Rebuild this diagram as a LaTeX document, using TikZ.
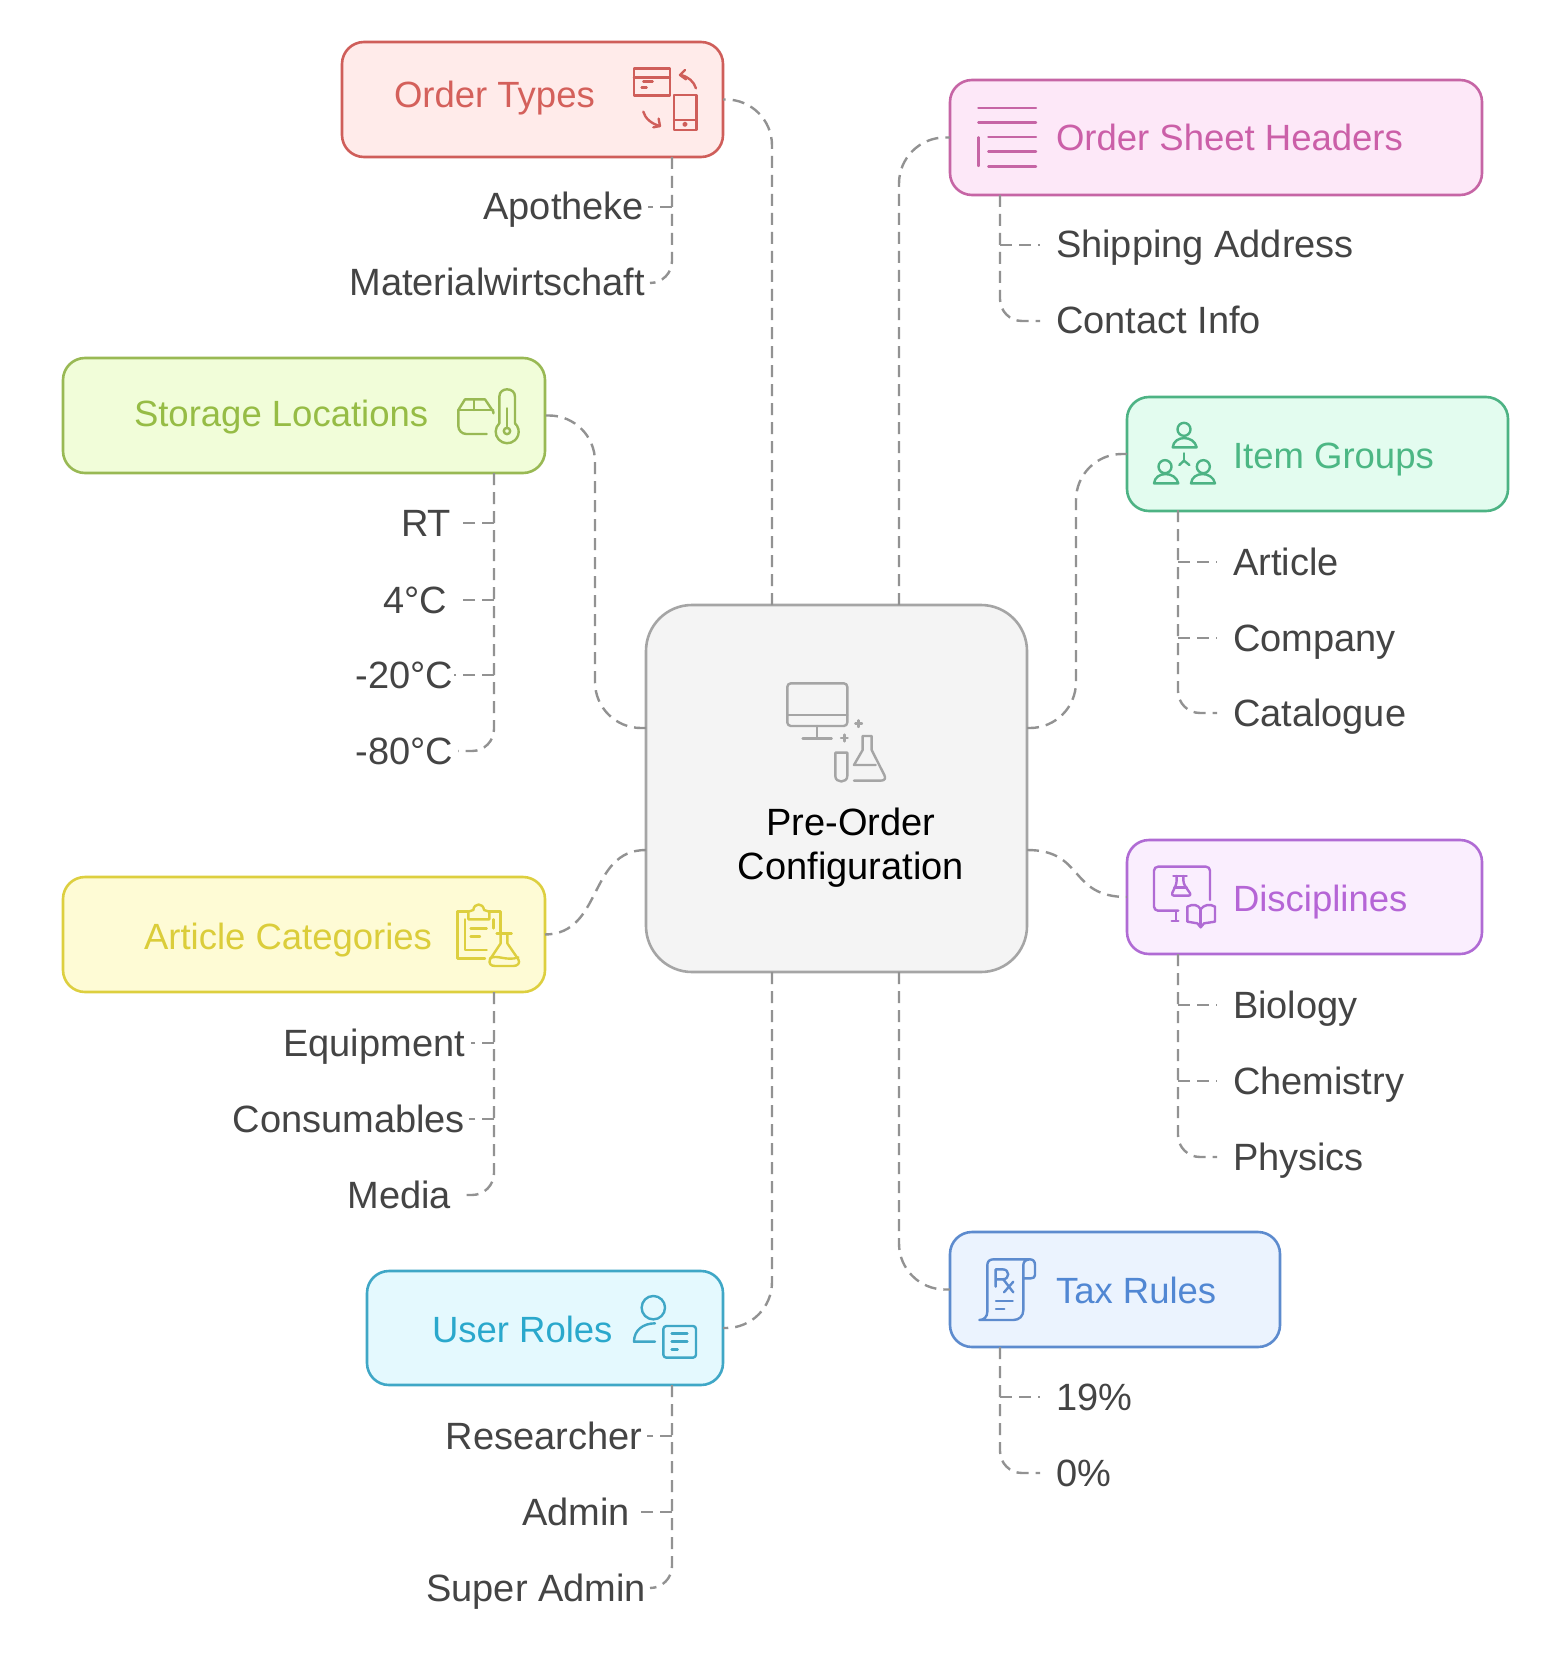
\documentclass[tikz,border=0pt]{standalone}
\usepackage{fontspec}
\setmainfont{Liberation Sans}
\usetikzlibrary{calc}
\definecolor{cOT}{HTML}{CF5E5A}\definecolor{fOT}{HTML}{FFEBEA}\definecolor{tOT}{HTML}{D4605B}
\definecolor{cSH}{HTML}{C665A5}\definecolor{fSH}{HTML}{FDE8F8}\definecolor{tSH}{HTML}{CB5FA8}
\definecolor{cST}{HTML}{99B954}\definecolor{fST}{HTML}{F1FDD9}\definecolor{tST}{HTML}{96BC45}
\definecolor{cIG}{HTML}{4DB384}\definecolor{fIG}{HTML}{E3FCEF}\definecolor{tIG}{HTML}{4CB784}
\definecolor{cAC}{HTML}{DDCF3F}\definecolor{fAC}{HTML}{FEFBD5}\definecolor{tAC}{HTML}{DBCD3A}
\definecolor{cDI}{HTML}{B06BD4}\definecolor{fDI}{HTML}{FAEEFE}\definecolor{tDI}{HTML}{B565D6}
\definecolor{cTX}{HTML}{5D8BCE}\definecolor{fTX}{HTML}{EBF3FE}\definecolor{tTX}{HTML}{5187D3}
\definecolor{cUR}{HTML}{3FA7C6}\definecolor{fUR}{HTML}{E4F9FE}\definecolor{tUR}{HTML}{2AA8CC}
\definecolor{cCT}{HTML}{A5A5A5}\definecolor{fCT}{HTML}{F4F4F4}
\definecolor{leafc}{HTML}{444444}\definecolor{connc}{HTML}{929292}
\tikzset{
 bx/.style={rectangle,rounded corners=22pt,line width=2.6pt,inner sep=0pt,outer sep=0pt},
 lbl/.style={inner sep=0pt,outer sep=0pt,text height=30pt,text depth=4pt,font=\fontsize{38}{46}\selectfont},
 hdr/.style={lbl,font=\fontsize{36.5}{46}\selectfont},
 leaf/.style={lbl,text=leafc},
 conn/.style={draw=connc,line width=2.4pt,dash pattern=on 12pt off 7pt},
 big/.style={conn,rounded corners=46pt},
 small/.style={conn,rounded corners=22pt},
 ic/.style={x=.3333pt,y=-.3333pt,line width=2.4pt,line cap=round,line join=round},
}
\begin{document}
\begin{tikzpicture}[x=1pt,y=-1pt]
\useasboundingbox[fill=white] (0,0) rectangle (1547,1677);
% boxes
\node[bx,draw=cCT,fill=fCT,rounded corners=46pt,minimum width=381pt,minimum height=367pt] (ctr) at (836.5,788.5) {};
\node[bx,draw=cOT,fill=fOT,minimum width=381pt,minimum height=115pt] (ot) at (532.5,99.5) {};
\node[bx,draw=cSH,fill=fSH,minimum width=532pt,minimum height=115pt] (sh) at (1216,137.5) {};
\node[bx,draw=cST,fill=fST,minimum width=482pt,minimum height=115pt] (st) at (304,415.5) {};
\node[bx,draw=cIG,fill=fIG,minimum width=381pt,minimum height=114pt] (ig) at (1317.5,454) {};
\node[bx,draw=cAC,fill=fAC,minimum width=482pt,minimum height=115pt] (ac) at (304,934.5) {};
\node[bx,draw=cDI,fill=fDI,minimum width=355pt,minimum height=114pt] (di) at (1304.5,897) {};
\node[bx,draw=cTX,fill=fTX,minimum width=330pt,minimum height=115pt] (tx) at (1115,1289.5) {};
\node[bx,draw=cUR,fill=fUR,minimum width=356pt,minimum height=114pt] (ur) at (545,1328) {};
% titles
\node[hdr,text=tOT,anchor=west] (otl) at (394,95) {Order Types};
\node[hdr,text=tSH,anchor=west] (shl) at (1056,138) {Order Sheet Headers};
\node[hdr,text=tST,anchor=west] (stl) at (134,413) {Storage Locations};
\node[hdr,text=tIG,anchor=west] (igl) at (1233,455) {Item Groups};
\node[hdr,text=tAC,anchor=west] (acl) at (144,936) {Article Categories};
\node[hdr,text=tDI,anchor=west] (dil) at (1233,898) {Disciplines};
\node[hdr,text=tTX,anchor=west] (txl) at (1056,1290) {Tax Rules};
\node[hdr,text=tUR,anchor=west] (url) at (432,1329) {User Roles};
\node[lbl,text=black,text height=30pt,anchor=center] (ctl1) at (851,822) {Pre-Order};
\node[lbl,text=black,anchor=center] (ctl2) at (851,866) {Configuration};
% leaves
\node[leaf,anchor=east] (apo) at (644,207) {Apotheke};
\node[leaf,anchor=east] (mat) at (645,283) {Materialwirtschaft};
\node[leaf,anchor=west] (shi) at (1056,245) {Shipping Address};
\node[leaf,anchor=west] (con) at (1056,321) {Contact Info};
\node[leaf,anchor=east] (rt) at (451,523) {RT};
\node[leaf,anchor=east] (c4) at (447,600) {4°C};
\node[leaf,anchor=east] (c20) at (453,675) {-20°C};
\node[leaf,anchor=east] (c80) at (453,751) {-80°C};
\node[leaf,anchor=west] (art) at (1233,562) {Article};
\node[leaf,anchor=west] (com) at (1233,638) {Company};
\node[leaf,anchor=west] (cat) at (1233,713) {Catalogue};
\node[leaf,anchor=east] (equ) at (465,1043) {Equipment};
\node[leaf,anchor=east] (cns) at (465,1119) {Consumables};
\node[leaf,anchor=east] (med) at (451,1195) {Media};
\node[leaf,anchor=west] (bio) at (1233,1005) {Biology};
\node[leaf,anchor=west] (che) at (1233,1081) {Chemistry};
\node[leaf,anchor=west] (phy) at (1233,1157) {Physics};
\node[leaf,anchor=west] (p19) at (1056,1397) {19\%};
\node[leaf,anchor=west] (p0) at (1056,1473) {0\%};
\node[leaf,anchor=east] (res) at (642,1436) {Researcher};
\node[leaf,anchor=east] (adm) at (630,1512) {Admin};
\node[leaf,anchor=east] (sup) at (646,1588) {Super Admin};
% named connector points
\coordinate (ct1) at (772,605); \coordinate (ct2) at (899,605);
\coordinate (cb1) at (772,972); \coordinate (cb2) at (899,972);
\coordinate (cl1) at (646,728); \coordinate (cl2) at (646,850);
\coordinate (cr1) at (1027,728); \coordinate (cr2) at (1027,850);
\coordinate (vl) at (595,0); \coordinate (vr) at (1076,0);
\coordinate (otr) at (672,157); \coordinate (shr) at (1000,195);
\coordinate (str) at (494,473); \coordinate (igr) at (1178,510);
\coordinate (acr) at (494,992); \coordinate (dir) at (1178,954);
\coordinate (txr) at (1000,1347); \coordinate (urr) at (672,1385);
% centre connectors
\draw[big] (ct1) -- (ct1 |- ot.east) -- (ot.east);
\draw[big] (ct2) -- (ct2 |- sh.west) -- (sh.west);
\draw[big] (cl1) -- (vl |- cl1) -- (vl |- st.east) -- (st.east);
\draw[big] (cr1) -- (vr |- cr1) -- (vr |- ig.west) -- (ig.west);
\draw[big] (cb1) -- (cb1 |- ur.east) -- (ur.east);
\draw[big] (cb2) -- (cb2 |- tx.west) -- (tx.west);
\draw[conn] (cr2) .. controls (1085,850) and (1068,897) .. (di.west);
\draw[conn] (cl2) .. controls (588,850) and (603,934) .. (ac.east);
% child connectors
\draw[small] (otr) -- (otr |- mat.east) -- ($(mat.east)+(5,0)$);
\draw[conn] (otr |- apo.east) -- ($(apo.east)+(4,0)$);
\draw[small] (shr) -- (shr |- con.west) -- ($(con.west)+(-16,0)$);
\draw[conn] (shr |- shi.west) -- ($(shi.west)+(-16,0)$);
\draw[small] (str) -- (str |- c80.east) -- ($(c80.east)+(5,0)$);
\draw[conn] (str |- rt.east) -- ($(rt.east)+(7,0)$);
\draw[conn] (str |- c4.east) -- ($(c4.east)+(15,0)$);
\draw[conn] (str |- c20.east) -- ($(c20.east)+(1,0)$);
\draw[small] (igr) -- (igr |- cat.west) -- ($(cat.west)+(-16,0)$);
\draw[conn] (igr |- art.west) -- ($(art.west)+(-16,0)$);
\draw[conn] (igr |- com.west) -- ($(com.west)+(-16,0)$);
\draw[small] (acr) -- (acr |- med.east) -- ($(med.east)+(15,0)$);
\draw[conn] (acr |- equ.east) -- ($(equ.east)+(6,0)$);
\draw[conn] (acr |- cns.east) -- ($(cns.east)+(4,0)$);
\draw[small] (dir) -- (dir |- phy.west) -- ($(phy.west)+(-16,0)$);
\draw[conn] (dir |- bio.west) -- ($(bio.west)+(-16,0)$);
\draw[conn] (dir |- che.west) -- ($(che.west)+(-16,0)$);
\draw[small] (txr) -- (txr |- p0.west) -- ($(p0.west)+(-16,0)$);
\draw[conn] (txr |- p19.west) -- ($(p19.west)+(-16,0)$);
\draw[small] (urr) -- (urr |- sup.east) -- ($(sup.east)+(4,0)$);
\draw[conn] (urr |- res.east) -- ($(res.east)+(5,0)$);
\draw[conn] (urr |- adm.east) -- ($(adm.east)+(9,0)$);
% --- icons (coordinates in 3x crop space)
% Order Types
\begin{scope}[shift={(320,20)},ic,draw=cOT]
\draw (942,145) rectangle (1050,227); \draw (942,172) -- (1050,172);
\draw (970,185) -- (998,185); \draw (965,202) -- (980,202);
\draw (1062,225) rectangle (1130,330); \draw (1062,300) -- (1130,300);
\draw (1095,313) circle (1.5pt);
\draw (1128,205) .. controls (1122,185) and (1105,170) .. (1082,165);
\draw (1095,150) -- (1080,165) -- (1098,178);
\draw (970,275) .. controls (975,295) and (995,312) .. (1020,318);
\draw (1000,322) -- (1020,318) -- (1016,296);
\end{scope}
% Order Sheet Headers
\begin{scope}[shift={(940,60)},ic,draw=cSH]
\draw (115,144) -- (288,144); \draw (115,187) -- (288,187);
\draw (145,231) -- (288,231); \draw (145,275) -- (288,275); \draw (145,319) -- (288,319);
\draw (115,232) -- (115,318);
\end{scope}
% Storage Locations
\begin{scope}[shift={(430,360)},ic,draw=cST]
\draw (85,150) -- (105,118) -- (165,118) -- (190,155) -- (190,160);
\draw (85,150) -- (190,150); \draw (132,118) -- (132,150);
\draw[rounded corners=8pt] (85,150) -- (85,222) -- (170,222);
\draw (208,190) -- (208,110) .. controls (208,95) and (220,88) .. (231,88) .. controls (243,88) and (255,95) .. (255,110) -- (255,190);
\draw (208,190) arc[start angle=133,end angle=407,radius=11.5pt];
\draw (231,213) circle (3.2pt); \draw (231,145) -- (231,205);
\end{scope}
% Item Groups
\begin{scope}[shift={(1130,390)},ic,draw=cIG]
\draw (162,118) circle (6.5pt);
\draw (128,172) .. controls (132,135) and (192,135) .. (200,172) -- cycle;
\draw (105,230) circle (6.5pt);
\draw (72,280) .. controls (76,243) and (136,243) .. (145,280) -- cycle;
\draw (220,230) circle (6.5pt);
\draw (183,280) .. controls (187,243) and (247,243) .. (255,280) -- cycle;
\draw (162,190) -- (162,212); \draw (148,225) -- (162,212) -- (178,225);
\end{scope}
% Article Categories
\begin{scope}[shift={(430,880)},ic,draw=cAC]
\draw (115,95) -- (82,95) -- (82,235) -- (165,235);
\draw (105,118) -- (105,210) -- (170,210);
\draw (178,95) -- (212,95) -- (212,160);
\draw (190,118) -- (190,145);
\draw (115,118) -- (115,95) -- (130,90) .. controls (132,68) and (160,68) .. (162,90) -- (178,95) -- (178,118) -- cycle;
\draw (122,145) -- (170,145); \draw (122,170) -- (150,170);
\draw (200,160) -- (245,160);
\draw (212,160) -- (212,190) -- (180,238) .. controls (175,250) and (182,258) .. (195,258) -- (250,258) .. controls (262,258) and (272,250) .. (265,238) -- (232,190) -- (232,160);
\draw (180,235) .. controls (200,222) and (230,245) .. (265,232);
\end{scope}
% Disciplines
\begin{scope}[shift={(1130,850)},ic,draw=cDI]
\draw[rounded corners=4pt] (145,182) -- (72,182) -- (72,50) -- (240,50) -- (240,150);
\draw (138,185) -- (138,212); \draw (125,213) -- (145,213);
\draw (130,78) -- (170,78);
\draw[rounded corners=3pt] (140,78) -- (140,100) -- (123,137) -- (185,137) -- (160,100) -- (160,78);
\draw (133,112) -- (170,112);
\draw (172,170) .. controls (190,160) and (205,165) .. (212,178) .. controls (220,165) and (240,160) .. (255,170) -- (255,215) -- (222,220) -- (212,232) -- (202,220) -- (172,215) -- cycle;
\draw (212,178) -- (212,228);
\end{scope}
% Tax Rules
\begin{scope}[shift={(960,1240)},ic,draw=cTX]
\draw (210,58) -- (100,58) .. controls (88,58) and (82,65) .. (82,75) -- (82,215) .. controls (82,230) and (72,240) .. (58,240) -- (160,240) .. controls (178,240) and (190,228) .. (190,210) -- (190,75) .. controls (190,65) and (198,58) .. (210,58) .. controls (220,58) and (225,65) .. (225,75) -- (225,105) .. controls (225,112) and (220,115) .. (212,115) -- (192,115);
\draw (107,140) -- (107,88) -- (128,88) .. controls (150,88) and (150,118) .. (128,118) -- (107,118);
\draw (130,118) -- (160,157); \draw (160,125) -- (132,157);
\draw (108,183) -- (158,183); \draw (108,207) -- (133,207);
\end{scope}
% User Roles
\begin{scope}[shift={(610,1270)},ic,draw=cUR]
\draw (130,113) circle (11.7pt);
\draw (135,160) .. controls (100,160) and (72,180) .. (72,215) -- (135,215);
\draw[rounded corners=3pt] (160,168) rectangle (258,263);
\draw (185,190) -- (232,190); \draw (185,214) -- (232,214); \draw (185,238) -- (203,238);
\end{scope}
% Centre
\begin{scope}[shift={(640,600)},ic,draw=cCT]
\draw[rounded corners=3.5pt] (442,250) rectangle (622,378);
\draw (442,345) -- (622,345);
\draw (531,378) -- (531,415); \draw (488,415) -- (575,415);
\draw (646,371) -- (666,371); \draw (656,361) -- (656,381);
\draw (603,414) -- (623,414); \draw (613,404) -- (613,424);
\draw (586,458) -- (622,458) -- (622,528) .. controls (622,550) and (586,550) .. (586,528) -- cycle;
\draw (642,542) -- (722,542) .. controls (735,542) and (738,535) .. (733,525) -- (695,450) -- (695,408) -- (668,408) -- (668,450) -- (642,495) -- (707,495);
\end{scope}
\end{tikzpicture}
\end{document}
